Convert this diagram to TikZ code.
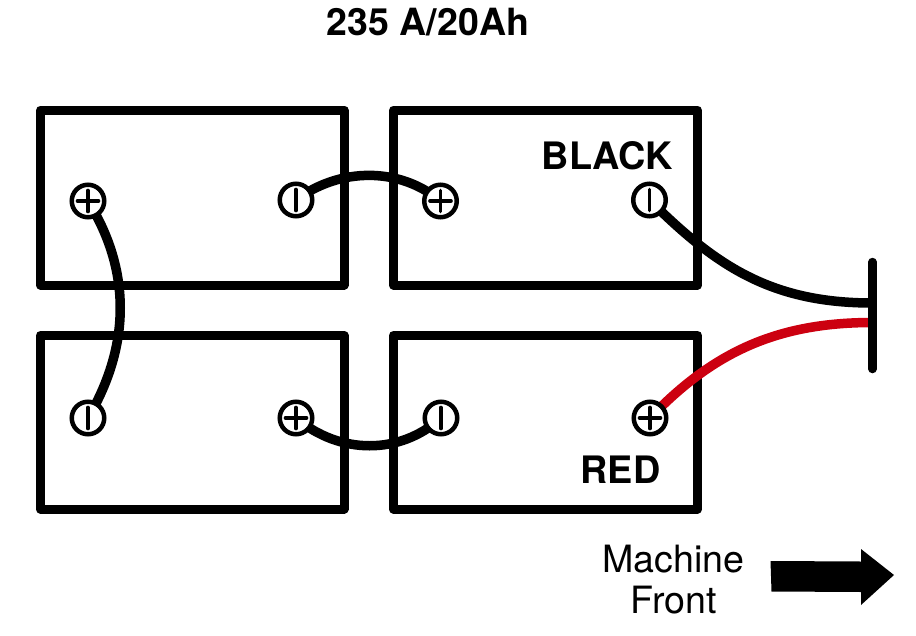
\documentclass[tikz,border=0pt]{standalone}
\usepackage{fontspec}
\setmainfont{TeX Gyre Heros}
\definecolor{wirered}{HTML}{CC0010}
\pgfdeclarelayer{under}
\pgfsetlayers{under,main}
\tikzset{
  x=1pt,y=-1pt,
  battery/.style={draw=black,line width=9pt,line join=round,fill=none,inner sep=0pt,outer sep=0pt,anchor=north west},
  terminal/.style={circle,draw=black,fill=white,line width=4.5pt,minimum size=32.5pt,inner sep=0pt},
  posterm/.style={terminal,path picture={\draw[line width=3.6pt,line cap=round] (path picture bounding box.center) ++(-10.5pt,0pt) -- ++(21pt,0pt) (path picture bounding box.center) ++(0pt,-10.5pt) -- ++(0pt,21pt);}},
  negterm/.style={terminal,path picture={\draw[line width=3.6pt,line cap=round] (path picture bounding box.center) ++(0pt,-10.5pt) -- ++(0pt,21pt);}},
  wire/.style={draw=black,line width=9.5pt},
  redwire/.style={draw=wirered,line width=9.5pt},
  bar/.style={draw=black,line width=8.5pt,line cap=round},
  heading/.style={font=\bfseries\fontsize{37.5}{40}\selectfont,inner sep=0pt},
  polarity/.style={font=\bfseries\fontsize{37.8}{40}\selectfont,inner sep=0pt},
  caption/.style={font=\fontsize{37.6}{41}\selectfont,align=center,inner sep=0pt},
  bigarrow/.style={fill=black,draw=none}
}
\begin{document}
\begin{tikzpicture}
\useasboundingbox (0,0) rectangle (916,635);
\node[heading] (title) at (428,22) {235 A/20Ah};
\coordinate (barT) at (872.5,262);
\coordinate (barB) at (872.5,369);
\coordinate (barN) at (872.5,303);
\coordinate (barP) at (872.5,322.5);
\node[posterm] (t1) at (88,201) {};
\node[negterm] (t2) at (296,200) {};
\node[posterm] (t3) at (440.5,201) {};
\node[negterm] (t4) at (649.5,200) {};
\node[negterm] (t5) at (88,418) {};
\node[posterm] (t6) at (296,418) {};
\node[negterm] (t7) at (441,418) {};
\node[posterm] (t8) at (650,418) {};
\begin{pgfonlayer}{under}
\node[battery,minimum width=303.5pt,minimum height=175pt] (b1) at (40.5,110) {};
\node[battery,minimum width=304pt,minimum height=175pt] (b2) at (393.5,110) {};
\node[battery,minimum width=303.5pt,minimum height=173.5pt] (b3) at (40.5,335.5) {};
\node[battery,minimum width=304pt,minimum height=173.5pt] (b4) at (393.5,335.5) {};
\draw[wire] (t1.center) .. controls (131,270) and (131,345) .. (t5.center);
\draw[wire] (t2.center) .. controls (340,167) and (400,167) .. (t3.center);
\draw[wire] (t6.center) .. controls (340,455) and (400,455) .. (t7.center);
\draw[wire] (t4.center) .. controls (715,265) and (770,303) .. (barN);
\draw[redwire] (t8.center) .. controls (715,350) and (780,322.5) .. (barP);
\draw[bar] (barT) -- (barB);
\end{pgfonlayer}
\node[polarity] (black) at (607.5,156) {BLACK};
\node[polarity] (red) at (620.5,470) {RED};
\node[caption] (front) at (673.5,580) {Machine\\Front};
\draw[bigarrow] (770.5,561) -- (861,561.5) -- (861,549) -- (894,575) -- (861,605) -- (861,592) -- (771.5,591.5) -- cycle;
\end{tikzpicture}
\end{document}
